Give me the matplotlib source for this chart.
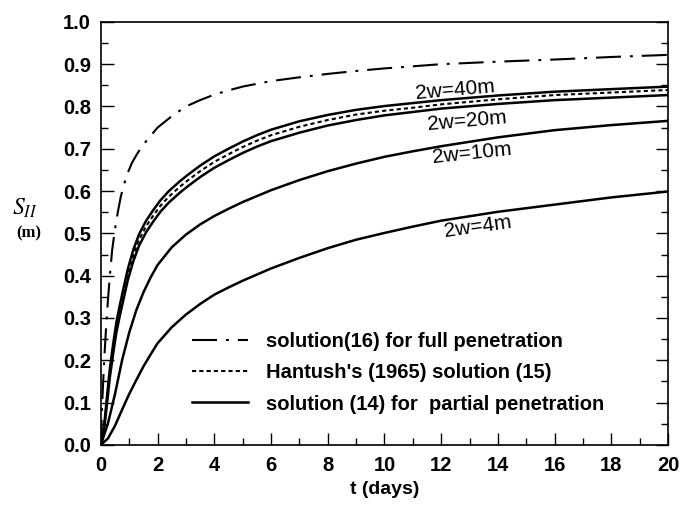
import matplotlib
matplotlib.use('Agg')
import matplotlib.pyplot as plt
from matplotlib.ticker import MultipleLocator, FormatStrFormatter

plt.rcParams['font.family'] = ['Liberation Sans', 'DejaVu Sans']
plt.rcParams['mathtext.fontset'] = 'stix'

# solution (16), full penetration
t_full = [0, 0.05, 0.12, 0.18, 0.25, 0.32, 0.4, 0.5, 0.6, 0.7, 0.8, 0.95, 1.1, 1.3, 1.5,
          1.75, 2.0, 2.5, 3.0, 3.5, 4.0, 4.5, 5, 6, 7, 8, 9, 10, 12, 14, 16, 18, 20]
s_full = [0, 0.10, 0.20, 0.27, 0.34, 0.40, 0.46, 0.51, 0.55, 0.585, 0.612, 0.643, 0.667, 0.69, 0.71,
          0.73, 0.75, 0.777, 0.80, 0.815, 0.828, 0.838, 0.847, 0.86, 0.869, 0.877, 0.884, 0.89, 0.90,
          0.906, 0.911, 0.917, 0.922]

# 2w=40m, Hantush (15), 2w=20m
t_wide = [0, 0.07, 0.14, 0.22, 0.32, 0.45, 0.55, 0.67, 0.8, 0.95, 1.15, 1.35, 1.6, 1.85, 2.1, 2.4,
          2.8, 3.1, 3.5, 4, 4.5, 5, 5.5, 6, 7, 8, 9, 10, 11, 12, 14, 16, 18, 20]
s_40 = [0, 0.025, 0.06, 0.115, 0.18, 0.245, 0.29, 0.33, 0.37, 0.415, 0.462, 0.498, 0.53, 0.555, 0.578,
        0.600, 0.624, 0.64, 0.66, 0.682, 0.70, 0.717, 0.732, 0.745, 0.765, 0.780, 0.792, 0.801, 0.808,
        0.815, 0.826, 0.835, 0.841, 0.847]
s_hantush = [0, 0.022, 0.055, 0.107, 0.17, 0.235, 0.28, 0.319, 0.358, 0.403, 0.449, 0.485, 0.517, 0.542,
             0.565, 0.587, 0.611, 0.627, 0.647, 0.669, 0.687, 0.704, 0.719, 0.732, 0.752, 0.768, 0.781,
             0.790, 0.797, 0.805, 0.817, 0.827, 0.833, 0.839]
s_20 = [0, 0.018, 0.05, 0.098, 0.16, 0.222, 0.266, 0.305, 0.344, 0.389, 0.435, 0.471, 0.503, 0.528,
        0.551, 0.573, 0.597, 0.613, 0.633, 0.655, 0.673, 0.69, 0.705, 0.718, 0.738, 0.755, 0.768,
        0.779, 0.787, 0.795, 0.806, 0.815, 0.821, 0.827]

# 2w=10m, 2w=4m
t_narrow = [0, 0.25, 0.5, 0.75, 1.0, 1.25, 1.5, 1.75, 2.0, 2.5, 3.0, 3.5, 4.0, 4.5, 5, 6, 7, 8, 9,
            10, 11, 12, 14, 16, 18, 20]
s_10 = [0, 0.05, 0.12, 0.2, 0.265, 0.318, 0.36, 0.395, 0.425, 0.467, 0.497, 0.521, 0.541, 0.558,
        0.574, 0.602, 0.626, 0.647, 0.665, 0.681, 0.694, 0.706, 0.727, 0.744, 0.756, 0.766]
s_4 = [0, 0.015, 0.045, 0.083, 0.12, 0.153, 0.185, 0.213, 0.24, 0.278, 0.308, 0.333, 0.355, 0.372,
       0.388, 0.417, 0.442, 0.465, 0.485, 0.501, 0.516, 0.53, 0.551, 0.568, 0.585, 0.599]

# curve labels: text, t, s, rotation
labels = ['2w=40m', '2w=20m', '2w=10m', '2w=4m']
label_t = [12.5, 12.9, 13.1, 13.3]
label_s = [0.838, 0.766, 0.69, 0.515]
label_rot = [5, 5, 6, 8]

legend_text = ['solution(16) for full penetration',
               "Hantush's (1965) solution (15)",
               'solution (14) for  partial penetration']

fig = plt.figure(figsize=(6.81, 5.09), dpi=100)
ax = fig.add_axes([0.148, 0.126, 0.833, 0.831])

dashdot = (0, (12, 4.3, 1.4, 4.3))
l1, = ax.plot(t_full, s_full, color='black', lw=1.5, linestyle=dashdot)
l2, = ax.plot(t_wide, s_hantush, color='black', lw=1.5, linestyle=(0, (2, 1.5)))
l3, = ax.plot(t_wide, s_40, color='black', lw=1.8)
ax.plot(t_wide, s_20, color='black', lw=1.8)
ax.plot(t_narrow, s_10, color='black', lw=1.8)
ax.plot(t_narrow, s_4, color='black', lw=1.8)

for txt, tx, sy, rot in zip(labels, label_t, label_s, label_rot):
    ax.text(tx, sy, txt, fontsize=15, ha='center', va='center',
            rotation=rot, rotation_mode='anchor')

ax.legend([l1, l2, l3], legend_text, loc='center left',
          bbox_to_anchor=(0.16, 0.17), frameon=False, borderpad=0,
          borderaxespad=0, handlelength=2.8, handletextpad=0.9,
          labelspacing=0.6, prop={'weight': 'bold', 'size': 14.5})

ax.set_xlim(0, 20)
ax.set_ylim(0, 1.0)
ax.xaxis.set_major_locator(MultipleLocator(2))
ax.xaxis.set_minor_locator(MultipleLocator(1))
ax.yaxis.set_major_locator(MultipleLocator(0.1))
ax.yaxis.set_minor_locator(MultipleLocator(0.05))
ax.yaxis.set_major_formatter(FormatStrFormatter('%.1f'))
ax.tick_params(which='both', direction='in', top=False, right=True, width=1.0)
ax.tick_params(which='major', length=9)
ax.tick_params(which='minor', length=5)
ax.tick_params(axis='y', pad=7)
ax.tick_params(axis='x', pad=8)
for lab in ax.get_xticklabels() + ax.get_yticklabels():
    lab.set_fontweight('bold')
    lab.set_fontsize(14.5)
for sp in ax.spines.values():
    sp.set_linewidth(1.2)

ax.set_xlabel('t (days)', fontsize=14, fontweight='bold', labelpad=4)
fig.text(0.037, 0.59, r'$S_{II}$', fontsize=17, ha='center', va='center')
fig.text(0.042, 0.542, '(m)', fontsize=12, fontweight='bold',
         family='Liberation Serif', ha='center', va='center')

fig.savefig('out.png', dpi=100)
